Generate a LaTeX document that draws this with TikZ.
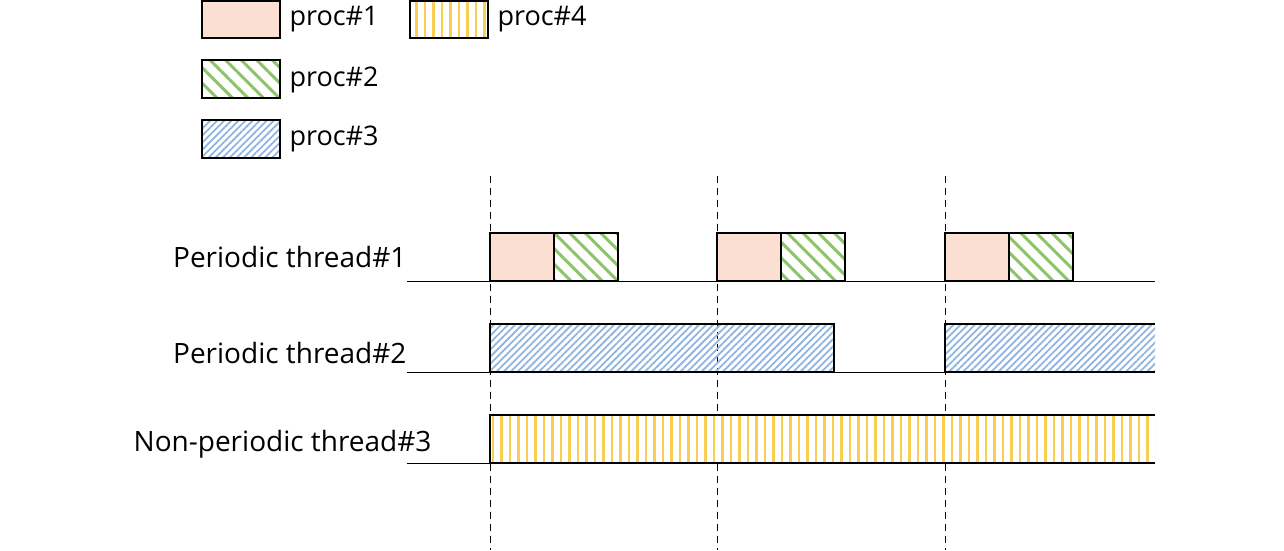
\documentclass[tikz,border=0pt]{standalone}
\usepackage{fontspec}
\setmainfont{Open Sans}
\usetikzlibrary{patterns.meta}
\definecolor{procOne}{HTML}{FBDFD0}
\definecolor{procTwo}{HTML}{8CC46A}
\definecolor{procThree}{HTML}{8FB5E0}
\definecolor{procFour}{HTML}{F8CF52}
\tikzset{
    x={1pt},
    y={-1pt},
    box/.style={draw=black, line width={2pt}},
    proc one/.style={box, fill=procOne},
    proc two/.style={box, pattern={Lines[angle=-45,distance=11pt,line width=3pt]}, pattern color=procTwo},
    proc three/.style={pattern={Lines[angle=45,distance=5pt,line width=1.8pt]}, pattern color=procThree},
    proc four/.style={pattern={Lines[angle=90,distance=8.5pt,line width=2.5pt]}, pattern color=procFour},
    legend label/.style={font={\fontsize{27}{32}\selectfont}, anchor=west},
    thread label/.style={font={\fontsize{28}{33}\selectfont}, anchor=east},
    base line/.style={draw=black, line width={0.8pt}},
    period/.style={draw=black, line width={1pt}, dash pattern=on 7pt off 5pt},
}
\begin{document}
\begin{tikzpicture}
\useasboundingbox (0,0) rectangle (1284,550);
% periods
\foreach \px in {490,717,945}
    \draw[period] (\px,176) -- (\px,550);
% legend
\path[proc one] (202,1) rectangle (280,38);
\node[legend label] (l1) at (286,19) {proc\#1};
\path[proc four, box] (410,1) rectangle (488,38);
\node[legend label] (l4) at (494,19) {proc\#4};
\path[proc two] (202,60) rectangle (280,98);
\node[legend label] (l2) at (286,80) {proc\#2};
\path[proc three, box] (202,120) rectangle (280,158);
\node[legend label] (l3) at (286,139) {proc\#3};
% thread 1
\foreach \px in {490,717,945} {
    \path[proc one] (\px,233) rectangle (\px+64,281);
    \path[proc two] (\px+64,233) rectangle (\px+128,281);
}
% thread 2
\path[proc three, box] (490,324) rectangle (834,372);
\fill[white] (945,324) rectangle (1155,372);
\fill[proc three] (945,324) rectangle (1155,372);
\draw[box] (1155,324) -- (945,324) -- (945,372) -- (1155,372);
% thread 3
\fill[white] (490,415) rectangle (1155,463);
\fill[proc four] (490,415) rectangle (1155,463);
\draw[box] (1155,415) -- (490,415) -- (490,463) -- (1155,463);
% base lines
\draw[base line] (407,281) -- (1155,281);
\draw[base line] (407,372) -- (1155,372);
\draw[base line] (407,463) -- (1155,463);
% labels
\node[thread label] (t1) at (410,257) {Periodic thread\#1};
\node[thread label] (t2) at (410,353) {Periodic thread\#2};
\node[thread label] (t3) at (435,444) {Non-periodic thread\#3};
\end{tikzpicture}
\end{document}
